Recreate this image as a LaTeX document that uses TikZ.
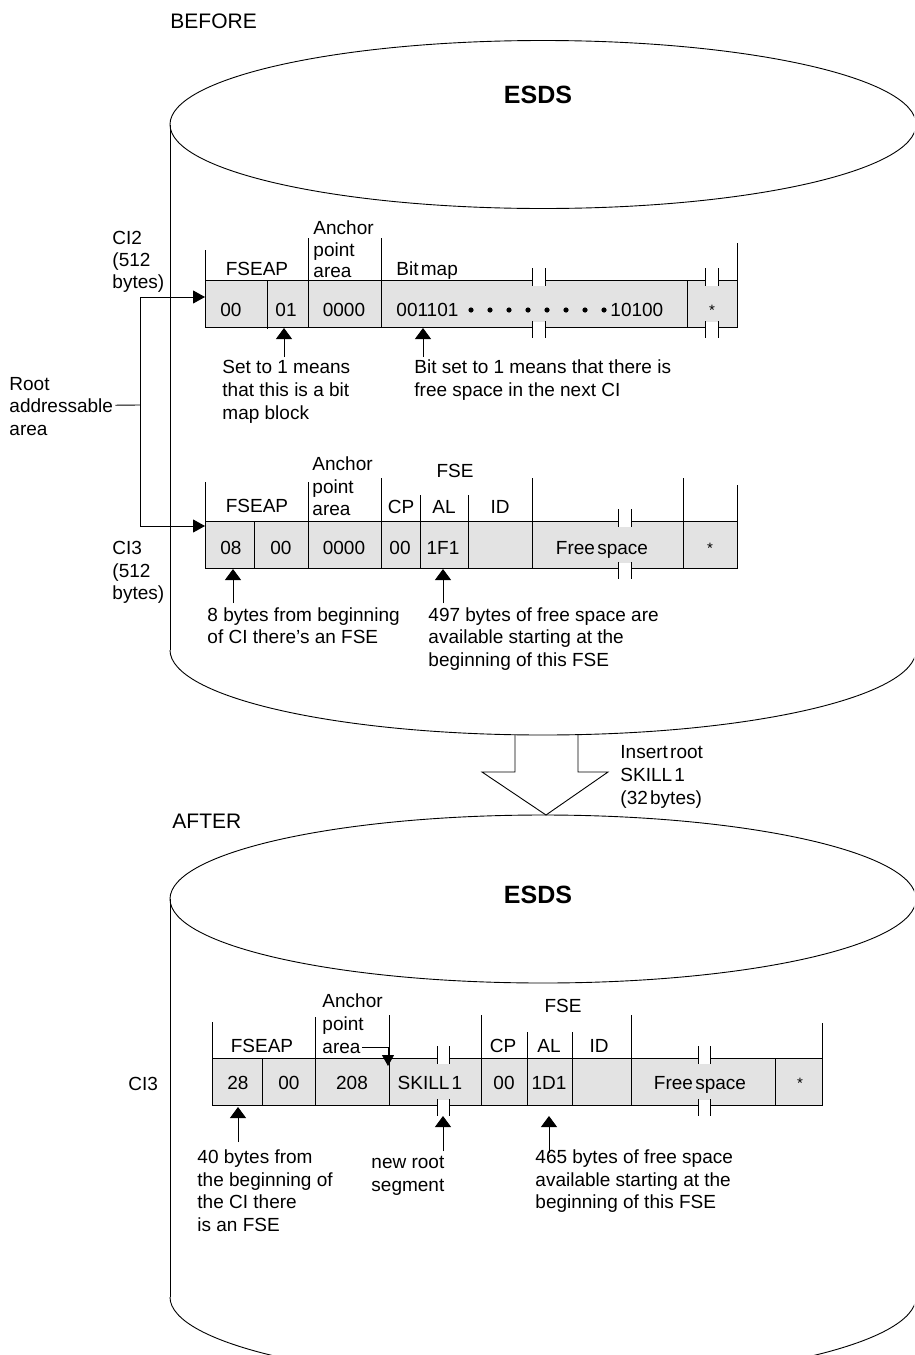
\documentclass[tikz,border=0pt]{standalone}
\usepackage{fontspec}
\setmainfont{Liberation Sans}
\usetikzlibrary{arrows.meta}
\newcommand\brkmark[4]{%
  \fill[gap] (#1,#3-1) rectangle (#1+#2,#3+5.5);
  \draw (#1,#3-12) -- (#1,#3+6) (#1+#2,#3-12) -- (#1+#2,#3+6);
  \fill[gap] (#1,#4-5.5) rectangle (#1+#2,#4+1);
  \draw (#1,#4-6) -- (#1,#4+11) (#1+#2,#4-6) -- (#1+#2,#4+11);}
\begin{document}
\begin{tikzpicture}[x=1pt,y=-1pt,line width=0.9pt,
 txt/.style={font=\fontsize{19}{23}\selectfont,inner sep=0pt,anchor=base west},
 ctr/.style={font=\fontsize{19}{23}\selectfont,inner sep=0pt,anchor=base},
 hdr/.style={font=\fontsize{21}{25}\selectfont,inner sep=0pt,anchor=base west},
 ttl/.style={font=\fontsize{25}{29}\selectfont\bfseries,inner sep=0pt,anchor=base},
 star/.style={font=\fontsize{15}{18}\selectfont,inner sep=0pt,anchor=base},
 cellrow/.style={fill=gray!22,draw=black},
 tri/.style={-{Triangle[width=13pt,length=12pt]}},
 uptri/.style={-{Triangle[width=16pt,length=11pt]}},
 gap/.style={fill=white,draw=none},
 bmdot/.style={fill=black}]
\useasboundingbox (0,0) rectangle (914,1355);
\begin{scope}
\clip (0,0) rectangle (914,1355);
% ---------- top cylinder
\draw (543,124.5) ellipse [x radius=373, y radius=84];
\draw (170,124.5) -- (170,650);
\begin{scope}
\clip (0,650) rectangle (914,800);
\draw (543,650) ellipse [x radius=373, y radius=85];
\end{scope}
% ---------- bottom cylinder
\draw (543,899) ellipse [x radius=373, y radius=84];
\draw (170,899) -- (170,1297);
\begin{scope}
\clip (0,1297) rectangle (914,1400);
\draw (543,1297) ellipse [x radius=373, y radius=85];
\end{scope}
\end{scope}

% ---------- titles
\node[hdr] (before) at (170,28) {BEFORE};
\node[ttl] (esds1) at (538,103) {ESDS};
\node[hdr] (after) at (172,828) {AFTER};
\node[ttl] (esds2) at (538,903) {ESDS};

% ---------- left labels
\node[txt] (ci2a) at (112,244) {CI2};
\node[txt] (ci2b) at (112,266) {(512};
\node[txt] (ci2c) at (112,288) {bytes)};
\node[txt] (root1) at (9,390) {Root};
\node[txt] (root2) at (9,412) {addressable};
\node[txt] (root3) at (9,435) {area};
\node[txt] (ci3a) at (112,554) {CI3};
\node[txt] (ci3b) at (112,577) {(512};
\node[txt] (ci3c) at (112,599) {bytes)};

% ---------- CI2 row
\draw[cellrow] (205,280) rectangle (737,327);
\draw (267,280) -- (267,329);
\draw (308,238) -- (308,327);
\draw (381,238) -- (381,327);
\draw (687,280) -- (687,327);
\draw (205,250) -- (205,280);
\draw (737,243) -- (737,280);
\brkmark{532}{13}{280}{327}
\brkmark{705}{13}{280}{327}
\node[ctr] (h2fseap) at (257,275) {FSEAP};
\node[txt] (h2anc) at (313,234) {Anchor};
\node[txt] (h2pt) at (313,256) {point};
\node[txt] (h2ar) at (313,277) {area};
\node[txt] (h2bm) at (396,275) {Bit\hspace{0.12em}map};
\node[ctr] (v2a) at (231,316) {00};
\node[ctr] (v2b) at (286,316) {01};
\node[ctr] (v2c) at (344,316) {0000};
\node[txt] (bm1) at (396,316) {001101};
\foreach \k in {0,...,7} \fill[bmdot] (471+19*\k,310) circle [radius=2.6];
\node[txt] (bm2) at (610,316) {10100};
\node[star] (v2s) at (712,315) {*};
\node[txt] (n2a) at (222,373) {Set to 1 means};
\node[txt] (n2b) at (222,396) {that this is a bit};
\node[txt] (n2c) at (222,419) {map block};
\node[txt] (n2d) at (414,373) {Bit set to 1 means that there is};
\node[txt] (n2e) at (414,396) {free space in the next CI};
\coordinate (u1b) at (284,357); \coordinate (u1t) at (284,328);
\coordinate (u2b) at (423,357); \coordinate (u2t) at (423,328);
\draw[uptri] (u1b) -- (u1t);
\draw[uptri] (u2b) -- (u2t);

% ---------- CI3 row
\draw[cellrow] (205,521) rectangle (737,568);
\draw (254,521) -- (254,568);
\draw (308,482) -- (308,568);
\draw (381,478) -- (381,568);
\draw (420,495) -- (420,568);
\draw (468,495) -- (468,568);
\draw (532,478) -- (532,568);
\draw (683,478) -- (683,568);
\draw (205,482) -- (205,521);
\draw (737,485) -- (737,521);
\brkmark{618}{13}{521}{568}
\node[ctr] (h3fseap) at (257,512) {FSEAP};
\node[txt] (h3anc) at (312,470) {Anchor};
\node[txt] (h3pt) at (312,493) {point};
\node[txt] (h3ar) at (312,515) {area};
\node[ctr] (h3fse) at (455,477) {FSE};
\node[ctr] (h3cp) at (401,513) {CP};
\node[ctr] (h3al) at (444,513) {AL};
\node[ctr] (h3id) at (500,513) {ID};
\node[ctr] (v3a) at (231,554) {08};
\node[ctr] (v3b) at (281,554) {00};
\node[ctr] (v3c) at (344,554) {0000};
\node[ctr] (v3d) at (400,554) {00};
\node[ctr] (v3e) at (443,554) {1F1};
\node[ctr] (v3f) at (602,554) {Free\hspace{0.12em}space};
\node[star] (v3s) at (710,553) {*};
\node[txt] (n3a) at (207,621) {8 bytes from beginning};
\node[txt] (n3b) at (207,643) {of CI there’s an FSE};
\node[txt] (n3c) at (428,621) {497 bytes of free space are};
\node[txt] (n3d) at (428,643) {available starting at the};
\node[txt] (n3e) at (428,666) {beginning of this FSE};
\coordinate (u3b) at (233,603); \coordinate (u3t) at (233,569);
\coordinate (u4b) at (443,603); \coordinate (u4t) at (443,569);
\draw[uptri] (u3b) -- (u3t);
\draw[uptri] (u4b) -- (u4t);

% ---------- root addressable bracket
\coordinate (br2) at (140,297);
\coordinate (br3) at (140,526);
\coordinate (brm) at (140,405);
\coordinate (ci2in) at (205,297);
\coordinate (ci3in) at (205,526);
\draw (br2) -- (br3);
\draw[tri] (br2) -- (ci2in);
\draw[tri] (br3) -- (ci3in);
\draw (root2.east) ++(2,0) -- (brm);

% ---------- big arrow
\coordinate (a1) at (515,735);
\coordinate (a2) at (515,772);
\coordinate (a3) at (482,772);
\coordinate (a4) at (546,815);
\coordinate (a5) at (608,772);
\coordinate (a6) at (578,772);
\coordinate (a7) at (578,735);
\draw[line join=miter] (a1) -- (a2) -- (a3) -- (a4) -- (a5) -- (a6) -- (a7);
\node[txt] (ins1) at (620,758) {Insert\hspace{0.12em}root};
\node[txt] (ins2) at (620,781) {SKILL\hspace{0.12em}1};
\node[txt] (ins3) at (620,804) {(32\hspace{0.12em}bytes)};

% ---------- AFTER row
\node[txt] (ci3x) at (128,1090) {CI3};
\draw[cellrow] (212,1058) rectangle (822,1105);
\draw (262,1058) -- (262,1105);
\draw (315,1017) -- (315,1105);
\draw (389,1015) -- (389,1105);
\draw (481,1015) -- (481,1105);
\draw (527,1032) -- (527,1105);
\draw (572,1032) -- (572,1105);
\draw (631,1015) -- (631,1105);
\draw (775,1058) -- (775,1105);
\draw (212,1022) -- (212,1058);
\draw (822,1023) -- (822,1058);
\brkmark{437}{12}{1058}{1105}
\brkmark{698}{12}{1058}{1105}
\node[ctr] (h4fseap) at (262,1052) {FSEAP};
\node[txt] (h4anc) at (322,1007) {Anchor};
\node[txt] (h4pt) at (322,1030) {point};
\node[txt] (h4ar) at (322,1053) {area};
\node[ctr] (h4fse) at (563,1012) {FSE};
\node[ctr] (h4cp) at (503,1052) {CP};
\node[ctr] (h4al) at (549,1052) {AL};
\node[ctr] (h4id) at (599,1052) {ID};
\coordinate (anctip) at (388,1066);
\draw[-{Triangle[width=12pt,length=11pt]}] (h4ar.east) ++(1,-1) -| (anctip);
\node[ctr] (v4a) at (238,1089) {28};
\node[ctr] (v4b) at (289,1089) {00};
\node[ctr] (v4c) at (352,1089) {208};
\node[ctr] (v4d) at (430,1089) {SKILL\hspace{0.12em}1};
\node[ctr] (v4e) at (504,1089) {00};
\node[ctr] (v4f) at (549,1089) {1D1};
\node[ctr] (v4g) at (700,1089) {Free\hspace{0.12em}space};
\node[star] (v4s) at (800,1088) {*};
\node[txt] (n4a) at (197,1163) {40 bytes from};
\node[txt] (n4b) at (197,1186) {the beginning of};
\node[txt] (n4c) at (197,1208) {the CI there};
\node[txt] (n4d) at (197,1231) {is an FSE};
\node[txt] (n4e) at (371,1168) {new root};
\node[txt] (n4f) at (371,1191) {segment};
\node[txt] (n4g) at (535,1163) {465 bytes of free space};
\node[txt] (n4h) at (535,1186) {available starting at the};
\node[txt] (n4i) at (535,1208) {beginning of this FSE};
\coordinate (u5b) at (238,1142); \coordinate (u5t) at (238,1107);
\coordinate (u6b) at (443,1151); \coordinate (u6t) at (443,1116);
\coordinate (u7b) at (549,1153); \coordinate (u7t) at (549,1116);
\draw[uptri] (u5b) -- (u5t);
\draw[uptri] (u6b) -- (u6t);
\draw[uptri] (u7b) -- (u7t);
\end{tikzpicture}
\end{document}
